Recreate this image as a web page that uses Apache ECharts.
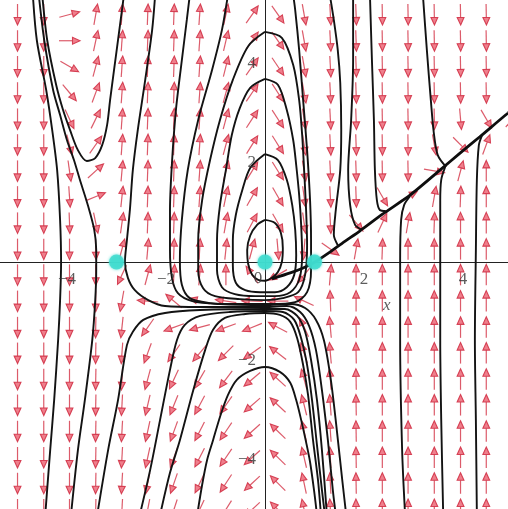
<!DOCTYPE html>
<html>
<head>
<meta charset="utf-8">
<script src="https://cdn.jsdelivr.net/npm/echarts@6/dist/echarts.min.js"></script>
<style>
  html, body { margin: 0; padding: 0; background: #ffffff; }
  #chart { width: 508px; height: 509px; }
</style>
</head>
<body>
<div id="chart"></div>
<script>
// Sample positions of the direction field (same on both axes)
const gridValues = [-5, -4.47, -3.95, -3.42, -2.89, -2.37, -1.84, -1.32, -0.79, -0.26,
                    0.26, 0.79, 1.32, 1.84, 2.37, 2.89, 3.42, 3.95, 4.47, 5];

// Arrow directions in degrees (counter-clockwise from +x), rows from y = 5 down to y = -5
const fieldAngles = [
  [-90,-90, 15, 80, 86, 88, 88, 86, 78, 55,-55,-80,-87,-88,-89,-89,-89,-89,-89,-89],
  [-90,-90,  0, 78, 86, 88, 88, 86, 77, 55,-55,-80,-87,-88,-89,-89,-89,-89,-89,-89],
  [-90,-90,-30, 75, 86, 88, 88, 86, 76, 55,-56,-80,-87,-88,-89,-89,-89,-89,-89,-89],
  [-90,-90,-50, 70, 86, 88, 88, 86, 75, 56,-57,-80,-87,-88,-89,-89,-89,-89,-89,-70],
  [-90,-90,-65, 64, 86, 88, 88, 86, 75, 57,-57,-81,-87,-88,-89,-89,-89,-85,-60, 50],
  [-90,-90,-75, 55, 86, 88, 88, 86, 75, 58,-58,-81,-87,-88,-89,-89,-80,-45, 70, 88],
  [-90,-90,-82, 42, 85, 88, 88, 86, 76, 58,-58,-81,-87,-88,-89,-89,-10, 75, 90, 90],
  [-90,-90,-86, 22, 84, 88, 88, 86, 78, 60,-60,-82,-87,-88,-60, 30, 80, 88, 90, 90],
  [-90,-90,-88,-78, 82, 88, 88, 86, 80, 62,-60,-82,-87,-50, 65, 80, 88, 90, 90, 90],
  [-90,-90,-90,-88, 75, 85, 88, 87, 84, 75,-85,-95,-35, 80, 88, 90, 90, 90, 90, 90],
  [-90,-90,-90,-90,-115,75, 86, 85, 90,125,-150,-130,85, 90, 90, 90, 90, 90, 90, 90],
  [-90,-90,-90,-90,-100,175,140,165,172,178,180,155, 92, 90, 90, 90, 90, 90, 90, 90],
  [-90,-90,-90,-91,-96,-125,-160,-165,-160,-158,152,115,95, 91, 90, 90, 90, 90, 90, 90],
  [-90,-90,-90,-91,-94,-110,-125,-130,-135,-145,142,108,95, 91, 90, 90, 90, 90, 90, 90],
  [-90,-90,-90,-91,-93,-105,-115,-120,-127,-140,138,105,94, 91, 90, 90, 90, 90, 90, 90],
  [-90,-90,-90,-91,-93,-103,-112,-118,-125,-139,137,104,94, 91, 90, 90, 90, 90, 90, 90],
  [-90,-90,-90,-91,-93,-102,-110,-117,-124,-138,136,103,94, 91, 90, 90, 90, 90, 90, 90],
  [-90,-90,-90,-91,-93,-102,-110,-117,-124,-138,136,103,93, 91, 90, 90, 90, 90, 90, 90],
  [-90,-90,-90,-91,-93,-101,-109,-116,-123,-137,135,102,93, 91, 90, 90, 90, 90, 90, 90],
  [-90,-90,-90,-91,-93,-101,-108,-115,-122,-137,135,102,93, 91, 90, 90, 90, 90, 90, 90]
];

// Equilibrium points
const equilibria = [[-3, 0], [0, 0], [1, 0]];

// Tick labels
const xTicks = [-4, -2, 2, 4];
const yTicks = [4, 2, -2, -4];

// Solution curves
const curveLeftOuter = [[-4.69,5.39],[-4.61,4.48],[-4.42,3.47],[-4.30,2.67],[-4.20,1.86],[-4.14,0.85],[-4.12,0],[-4.14,-0.77],[-4.18,-1.58],[-4.26,-2.79],[-4.34,-3.80],[-4.44,-5.11]];
const curveLeftU = [[-4.50,5.39],[-4.40,4.48],[-4.22,3.58],[-4.08,3.07],[-3.94,2.67],[-3.78,2.26],[-3.60,2.04],[-3.43,2.10],[-3.29,2.36],[-3.19,2.77],[-3.13,3.27],[-3.05,3.88],[-2.97,4.48],[-2.89,5.09],[-2.85,5.39]];
const curveLeftInner = [[-4.57,5.39],[-4.46,4.48],[-4.28,3.47],[-4.14,2.97],[-4.00,2.46],[-3.86,2.06],[-3.74,1.66],[-3.58,1.15],[-3.45,0.65],[-3.41,0.24],[-3.41,-0.16],[-3.43,-0.77],[-3.49,-1.58],[-3.64,-2.79],[-3.78,-3.80],[-3.92,-5.11]];
const curveSaddleRight = [[-2.22,5.39],[-2.28,4.69],[-2.42,3.68],[-2.57,2.67],[-2.67,1.86],[-2.73,1.05],[-2.79,0.44],[-2.83,0],[-2.77,-0.32],[-2.63,-0.57],[-2.36,-0.77],[-2.02,-0.89],[-1.31,-0.91],[0,-0.91],[0.44,-0.89],[0.71,-1.01],[0.89,-1.29],[1.03,-1.78],[1.15,-2.59],[1.27,-3.60],[1.37,-4.61],[1.43,-5.11]];
const curveBigLoop = [[-1.52,5.39],[-1.58,4.89],[-1.68,4.08],[-1.80,3.07],[-1.88,2.00],[-1.92,1.05],[-1.92,0.24],[-1.88,-0.32],[-1.76,-0.63],[-1.47,-0.79],[-0.91,-0.85],[0,-0.87],[0.51,-0.85],[0.81,-0.93],[1.03,-1.17],[1.19,-1.58],[1.33,-2.38],[1.45,-3.39],[1.56,-4.40],[1.64,-5.11]];
const curveDown1 = [[-3.39,-5.11],[-3.17,-3.80],[-2.97,-2.79],[-2.79,-1.68],[-2.67,-1.41],[-2.46,-1.17],[-2.02,-1.03],[-1.31,-0.97],[0,-0.95],[0.40,-0.95],[0.65,-1.09],[0.81,-1.41],[0.93,-1.98],[1.05,-2.79],[1.15,-3.80],[1.25,-5.11]];
const curveDown2 = [[-2.53,-5.11],[-2.32,-4.20],[-2.12,-3.19],[-1.92,-2.18],[-1.78,-1.58],[-1.62,-1.27],[-1.31,-1.09],[-0.71,-1.01],[0,-0.99],[0.36,-1.01],[0.59,-1.17],[0.73,-1.54],[0.85,-2.08],[0.95,-2.79],[1.05,-3.70],[1.15,-4.61],[1.21,-5.11]];
const curveDown3 = [[-2.12,-5.11],[-1.92,-4.26],[-1.72,-3.60],[-1.45,-2.59],[-1.21,-1.78],[-1.05,-1.37],[-0.81,-1.13],[-0.40,-1.05],[0,-1.03],[0.30,-1.07],[0.51,-1.21],[0.65,-1.54],[0.77,-2.08],[0.87,-2.69],[0.97,-3.60],[1.07,-4.40],[1.13,-5.11]];
const curveLowerArch = [[-1.37,-5.11],[-1.27,-4.50],[-1.17,-4.00],[-1.05,-3.60],[-0.91,-3.13],[-0.75,-2.69],[-0.57,-2.38],[-0.30,-2.20],[0,-2.12],[0.30,-2.22],[0.51,-2.44],[0.63,-2.79],[0.73,-3.19],[0.83,-3.64],[0.91,-4.04],[0.99,-4.61],[1.05,-5.11]];
const orbitInner = [[0,0.85],[0.20,0.79],[0.32,0.59],[0.36,0.28],[0.34,0],[0.26,-0.20],[0.14,-0.32],[0,-0.38],[-0.14,-0.36],[-0.26,-0.26],[-0.34,-0.04],[-0.36,0.24],[-0.30,0.53],[-0.16,0.75],[0,0.85]];
const orbit3 = [[0,2.18],[0.26,2.06],[0.44,1.66],[0.55,1.15],[0.61,0.65],[0.63,0.14],[0.59,-0.26],[0.44,-0.51],[0.20,-0.61],[-0.10,-0.61],[-0.40,-0.57],[-0.59,-0.42],[-0.65,-0.06],[-0.65,0.44],[-0.59,0.95],[-0.46,1.45],[-0.30,1.90],[0,2.18]];
const orbit2 = [[0,3.70],[0.26,3.58],[0.44,3.07],[0.57,2.46],[0.63,1.96],[0.69,1.35],[0.73,0.75],[0.75,0.14],[0.69,-0.36],[0.51,-0.61],[0.20,-0.69],[-0.20,-0.69],[-0.61,-0.65],[-0.87,-0.51],[-0.97,-0.16],[-0.97,0.44],[-0.91,1.15],[-0.79,1.86],[-0.67,2.57],[-0.51,3.11],[-0.30,3.52],[0,3.70]];
const orbit1 = [[0,4.65],[0.34,4.53],[0.57,3.98],[0.69,3.27],[0.75,2.57],[0.79,1.86],[0.83,1.05],[0.85,0.34],[0.81,-0.26],[0.67,-0.61],[0.36,-0.73],[0,-0.77],[-0.51,-0.75],[-1.01,-0.69],[-1.25,-0.53],[-1.35,-0.16],[-1.35,0.44],[-1.27,1.25],[-1.11,2.06],[-0.91,2.87],[-0.65,3.68],[-0.34,4.36],[0,4.65]];
const orbit0 = [[-0.75,5.39],[-0.87,4.69],[-1.07,3.88],[-1.35,2.87],[-1.56,1.86],[-1.68,0.85],[-1.72,0.04],[-1.68,-0.46],[-1.52,-0.73],[-1.11,-0.83],[-0.51,-0.85],[0.10,-0.85],[0.61,-0.81],[0.85,-0.61],[0.93,-0.16],[0.93,0.44],[0.91,1.25],[0.85,2.26],[0.77,3.27],[0.69,4.28],[0.61,5.09],[0.57,5.39]];
const separatrix = [[0.14,-0.34],[0.51,-0.22],[0.77,-0.12],[1.01,0],[1.31,0.20],[1.62,0.42],[1.92,0.63],[2.38,0.97],[2.93,1.35],[3.54,1.86],[3.94,2.20],[4.34,2.53],[4.91,3.01],[5.15,3.19]];
const curveTop0 = [[1.31,5.39],[1.39,4.89],[1.47,4.28],[1.52,3.62],[1.54,2.67],[1.52,1.86],[1.43,1.05],[1.39,0.55],[1.47,0.34]];
const curveTop1 = [[1.78,5.39],[1.78,4.08],[1.74,2.87],[1.68,1.86],[1.72,1.15],[1.82,0.75],[1.96,0.65]];
const curveTop2 = [[2.12,5.39],[2.16,4.08],[2.20,2.87],[2.22,1.86],[2.26,1.25],[2.32,1.05],[2.44,1.03]];
const curveTop3 = [[3.19,5.39],[3.27,4.28],[3.35,3.27],[3.41,2.61],[3.49,2.16],[3.66,1.92]];
const curveRise1 = [[2.83,-5.11],[2.77,-3.80],[2.73,-1.58],[2.73,0.04],[2.75,0.85],[2.81,1.15],[2.93,1.33]];
const curveRise2 = [[3.60,-5.11],[3.56,-3.19],[3.54,-1.58],[3.54,0.24],[3.54,1.25],[3.56,1.66],[3.64,1.92]];
const curveRise3 = [[4.28,-5.11],[4.26,-3.19],[4.24,-1.58],[4.26,0.24],[4.28,1.66],[4.32,2.36],[4.38,2.55]];

const thinCurves = [curveLeftOuter, curveLeftU, curveLeftInner, curveSaddleRight, curveBigLoop,
  curveDown1, curveDown2, curveDown3, curveLowerArch, orbitInner, orbit3, orbit2, orbit1, orbit0,
  curveTop0, curveTop1, curveTop2, curveTop3, curveRise1, curveRise2, curveRise3];

// Build the field items [x, y, angle]
const fieldData = [];
fieldAngles.forEach((row, r) => {
  const y = gridValues[gridValues.length - 1 - r];
  row.forEach((a, c) => fieldData.push([gridValues[c], y, a]));
});

function renderArrow(params, api) {
  const c = api.coord([api.value(0), api.value(1)]);
  const a = api.value(2) * Math.PI / 180;
  const dx = Math.cos(a), dy = -Math.sin(a);
  const L = 21, headLen = 7.5, headHalf = 3.4;
  const tail = [c[0] - dx * L / 2, c[1] - dy * L / 2];
  const tip = [c[0] + dx * L / 2, c[1] + dy * L / 2];
  const base = [tip[0] - dx * headLen, tip[1] - dy * headLen];
  const px = -dy, py = dx;
  return {
    type: 'group',
    children: [
      { type: 'line', shape: { x1: tail[0], y1: tail[1], x2: base[0], y2: base[1] },
        style: { stroke: '#d63e50', lineWidth: 1.2, opacity: 0.85 } },
      { type: 'polygon', shape: { points: [tip, [base[0] + px * headHalf, base[1] + py * headHalf], [base[0] - px * headHalf, base[1] - py * headHalf]] },
        style: { fill: '#ee7482', stroke: '#d3354a', lineWidth: 1.1, opacity: 0.92 } }
    ]
  };
}

const series = [];
series.push({
  type: 'custom', renderItem: renderArrow, data: fieldData, clip: true, z: 1,
  encode: { x: 0, y: 1 }, silent: true
});
thinCurves.forEach(d => series.push({
  type: 'line', data: d, showSymbol: false, smooth: 0.3, clip: true, z: 3, silent: true,
  lineStyle: { color: '#131313', width: 1.9 }
}));
series.push({
  type: 'line', data: separatrix, showSymbol: false, smooth: 0.2, clip: true, z: 3, silent: true,
  lineStyle: { color: '#0e0e0e', width: 2.8 }
});
series.push({
  type: 'scatter', data: equilibria, symbolSize: 15, z: 4, silent: true,
  itemStyle: { color: '#3fdccf', opacity: 0.85, shadowBlur: 3, shadowColor: '#3fdccf' }
});
const labelFont = { fontFamily: 'Liberation Serif', fontSize: 17, color: '#333' };
series.push({
  type: 'scatter', data: xTicks.map(v => [v, 0]), symbolSize: 0, z: 5, silent: true,
  label: Object.assign({ show: true, position: 'bottom', distance: 9,
    formatter: p => String(p.value[0]).replace('-', '\u2212') }, labelFont)
});
series.push({
  type: 'scatter', data: yTicks.map(v => [0, v]), symbolSize: 0, z: 5, silent: true,
  label: Object.assign({ show: true, position: 'left', distance: 9,
    formatter: p => String(p.value[1]).replace('-', '\u2212') }, labelFont)
});
series.push({
  type: 'scatter', data: [[0, 0]], symbolSize: 0, z: 5, silent: true,
  label: Object.assign({ show: true, position: 'bottom', distance: 8, offset: [-7, 0], formatter: '0' }, labelFont)
});
series.push({
  type: 'scatter', data: [[2.46, -0.87]], symbolSize: 0, z: 5, silent: true,
  label: Object.assign({ show: true, position: 'inside', formatter: 'x', fontStyle: 'italic' }, labelFont)
});

const chart = echarts.init(document.getElementById('chart'), null, { renderer: 'canvas' });
chart.setOption({
  animation: false,
  backgroundColor: '#ffffff',
  grid: { left: 0, right: 0, top: 0, bottom: 0 },
  xAxis: {
    type: 'value', min: -5.354, max: 4.909,
    axisLine: { onZero: true, lineStyle: { color: '#222', width: 1 } },
    axisTick: { show: false }, axisLabel: { show: false }, splitLine: { show: false }
  },
  yAxis: {
    type: 'value', min: -4.99, max: 5.293,
    axisLine: { onZero: true, lineStyle: { color: '#222', width: 1 } },
    axisTick: { show: false }, axisLabel: { show: false }, splitLine: { show: false }
  },
  series: series
});
</script>
</body>
</html>
